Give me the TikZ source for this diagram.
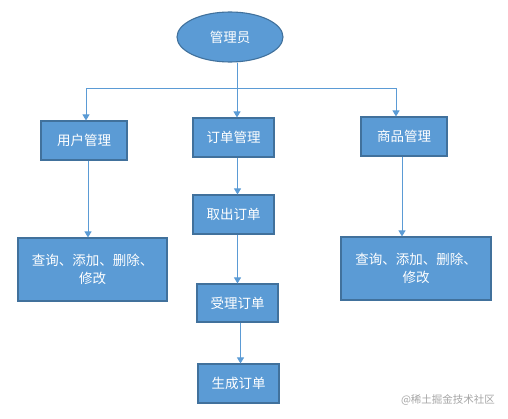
\documentclass[tikz,border=0pt]{standalone}
\usepackage{fontspec}
\usetikzlibrary{arrows.meta,shapes.geometric}
\newfontfamily\cjk{Noto Sans CJK SC}
\definecolor{boxfill}{RGB}{91,155,213}
\definecolor{boxline}{RGB}{65,113,156}
\definecolor{markcol}{RGB}{165,165,165}
\tikzset{
	box/.style={draw=boxline, line width=1.1pt, fill=boxfill, text=white, inner sep=2pt,
		font=\cjk\fontsize{13.5}{18}\selectfont, align=center, minimum height=39pt},
	arr/.style={draw=boxfill, line width=1pt, -{Triangle[width=7pt,length=6pt]}}
}
\begin{document}
\begin{tikzpicture}[x=1pt,y=-1pt]
	\useasboundingbox (0,0) rectangle (508,418);
	\node[box, ellipse, minimum width=106pt, minimum height=50pt] at (230,37) (mgr) {管理员};
	\node[box, minimum width=86pt]  at (84,140.5)    (usr)   {用户管理};
	\node[box, minimum width=81pt]  at (233.5,137.5) (ord)   {订单管理};
	\node[box, minimum width=86pt]  at (404,136.5)   (goods) {商品管理};
	\node[box, minimum width=149pt, minimum height=63pt] at (92.5,269.5) (usrops)   {查询、添加、删除、\\修改};
	\node[box, minimum width=150pt, minimum height=63pt] at (416,268.5)  (goodsops) {查询、添加、删除、\\修改};
	\node[box, minimum width=81pt]  at (233.5,214.5) (take)   {取出订单};
	\node[box, minimum width=81pt, minimum height=38pt] at (237.5,303) (accept) {受理订单};
	\node[box, minimum width=81pt]  at (238.5,383.5) (gen)    {生成订单};
	\node[text=markcol, font=\cjk\fontsize{10.5}{12}\selectfont] at (448,400) (mark) {@稀土掘金技术社区};
	% top level
	\coordinate (bar) at (237,88);
	\draw[arr] (bar |- mgr.south) -- (bar |- ord.north);
	\draw[arr] (bar) -| ([xshift=2pt]usr.north);
	\draw[arr] (bar) -| ([xshift=-8pt]goods.north);
	% second level
	\draw[arr] ([xshift=4pt]usr.south) -- ([xshift=4pt]usr.south |- usrops.north);
	\draw[arr] ([xshift=-2pt]goods.south) -- ([xshift=-2pt]goods.south |- goodsops.north);
	\draw[arr] ([xshift=4pt]ord.south) -- ([xshift=4pt]ord.south |- take.north);
	\draw[arr] ([xshift=4pt]take.south) -- ([xshift=4pt]take.south |- accept.north);
	\draw[arr] ([xshift=3pt]accept.south) -- ([xshift=3pt]accept.south |- gen.north);
\end{tikzpicture}
\end{document}
